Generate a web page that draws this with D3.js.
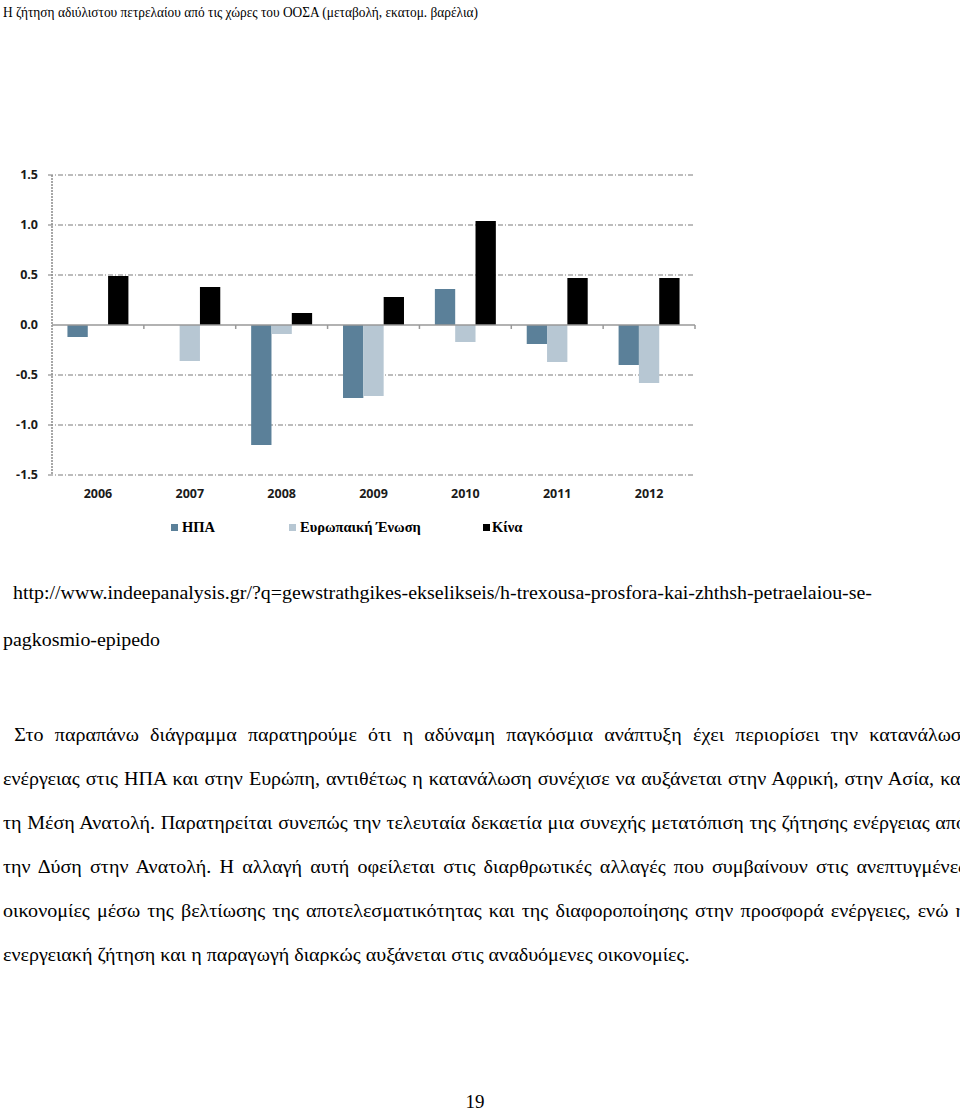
<!DOCTYPE html>
<html>
<head>
<meta charset="utf-8">
<script src="https://cdn.jsdelivr.net/npm/d3@7"></script>
<style>
  body { margin: 0; background: #fff; }
  svg { display: block; }
</style>
</head>
<body>
<div id="chart"></div>
<script>
// data
const years = ["2006", "2007", "2008", "2009", "2010", "2011", "2012"];
const usa = [-0.12, 0, -1.2, -0.73, 0.36, -0.19, -0.4];
const eu = [0, -0.36, -0.09, -0.71, -0.17, -0.37, -0.58];
const china = [0.49, 0.38, 0.12, 0.28, 1.04, 0.47, 0.47];
const seriesNames = ["ΗΠΑ", "Ευρωπαική Ένωση", "Κίνα"];
const yTicks = [1.5, 1.0, 0.5, 0.0, -0.5, -1.0, -1.5];

const title = "Η ζήτηση αδιύλιστου πετρελαίου από τις χώρες του ΟΟΣΑ (μεταβολή, εκατομ. βαρέλια)";
const urlLines = [
  "http://www.indeepanalysis.gr/?q=gewstrathgikes-ekselikseis/h-trexousa-prosfora-kai-zhthsh-petraelaiou-se-",
  "pagkosmio-epipedo"
];
const paragraph = [
  " Στο παραπάνω διάγραμμα παρατηρούμε ότι η αδύναμη παγκόσμια ανάπτυξη έχει περιορίσει την κατανάλωση",
  "ενέργειας στις ΗΠΑ και στην Ευρώπη, αντιθέτως η κατανάλωση συνέχισε να αυξάνεται στην Αφρική, στην Ασία, και",
  "τη Μέση Ανατολή. Παρατηρείται συνεπώς την τελευταία δεκαετία μια συνεχής μετατόπιση της ζήτησης ενέργειας από",
  "την Δύση στην Ανατολή. Η αλλαγή αυτή οφείλεται στις διαρθρωτικές αλλαγές που συμβαίνουν στις ανεπτυγμένες",
  "οικονομίες μέσω της βελτίωσης της αποτελεσματικότητας και της διαφοροποίησης στην προσφορά ενέργειες, ενώ η",
  "ενεργειακή ζήτηση και η παραγωγή διαρκώς αυξάνεται στις αναδυόμενες οικονομίες."
];
const pageNumber = "19";

const rows = years.map((y, i) => ({ year: y, values: [usa[i], eu[i], china[i]] }));
const colors = ["#5b8099", "#b7c7d3", "#000000"];

const W = 960, H = 1111;
const box = { left: 52, right: 695, top: 175, bottom: 475 };

const svg = d3.select("#chart").append("svg")
  .attr("width", W).attr("height", H);
svg.append("rect").attr("width", W).attr("height", H).attr("fill", "#fff");

const serif = "'Liberation Serif', 'Times New Roman', serif";
const sans = "'Open Sans', 'DejaVu Sans', sans-serif";

// title (original is a slightly condensed Times)
svg.append("text")
  .attr("x", 3).attr("y", 17)
  .attr("textLength", 475).attr("lengthAdjust", "spacingAndGlyphs")
  .style("font-family", serif).style("font-size", "15.5px")
  .text(title);

// scales
const x = d3.scaleBand().domain(years).range([box.left, box.right]).padding(0);
const x1 = d3.scaleBand().domain(d3.range(3)).range([0, x.bandwidth()])
  .paddingInner(0).paddingOuter(0.76);
const y = d3.scaleLinear().domain([-1.5, 1.5]).range([box.bottom, box.top]);

// gridlines (dash-dot)
svg.append("g").selectAll("line")
  .data(yTicks.filter(d => d !== 0))
  .join("line")
  .attr("x1", box.left - 4).attr("x2", box.right)
  .attr("y1", d => y(d)).attr("y2", d => y(d))
  .attr("stroke", "#7a7a7a").attr("stroke-width", 1)
  .attr("stroke-dasharray", "5,2,1,2");

// left axis line
svg.append("line")
  .attr("x1", box.left).attr("x2", box.left)
  .attr("y1", box.top).attr("y2", box.bottom)
  .attr("stroke", "#8a8a8a").attr("stroke-width", 1.5)
  .attr("stroke-dasharray", "2,1");

// y labels
svg.append("g").selectAll("text")
  .data(yTicks)
  .join("text")
  .attr("x", 38).attr("y", d => y(d))
  .attr("dy", "0.35em")
  .attr("text-anchor", "end")
  .style("font-family", sans).style("font-weight", "bold").style("font-size", "12.5px")
  .attr("fill", "#1a1a1a")
  .text(d => d.toFixed(1));

// bars
const groups = svg.append("g").selectAll("g")
  .data(rows)
  .join("g")
  .attr("transform", d => "translate(" + x(d.year) + ",0)");

groups.selectAll("rect")
  .data(d => d.values.map((v, i) => ({ v: v, i: i })))
  .join("rect")
  .attr("x", d => x1(d.i))
  .attr("width", x1.bandwidth())
  .attr("y", d => y(Math.max(0, d.v)))
  .attr("height", d => Math.abs(y(d.v) - y(0)))
  .attr("fill", d => colors[d.i]);

// zero line with category ticks
svg.append("line")
  .attr("x1", box.left).attr("x2", box.right)
  .attr("y1", y(0)).attr("y2", y(0))
  .attr("stroke", "#999").attr("stroke-width", 1.5);
svg.append("g").selectAll("line")
  .data(years.slice(1).map(d => x(d)).concat([box.right]))
  .join("line")
  .attr("x1", d => d).attr("x2", d => d)
  .attr("y1", y(0)).attr("y2", y(0) + 4)
  .attr("stroke", "#999").attr("stroke-width", 1.5);

// x labels
svg.append("g").selectAll("text")
  .data(years)
  .join("text")
  .attr("x", d => x(d) + x.bandwidth() / 2)
  .attr("y", 498)
  .attr("text-anchor", "middle")
  .style("font-family", sans).style("font-weight", "bold").style("font-size", "12.5px")
  .attr("fill", "#1a1a1a")
  .text(d => d);

// legend
const legendX = [171, 289, 483];
const legend = svg.append("g").selectAll("g")
  .data(seriesNames)
  .join("g")
  .attr("transform", (d, i) => "translate(" + legendX[i] + ",524)");
legend.append("rect")
  .attr("width", 7).attr("height", 7)
  .attr("fill", (d, i) => colors[i]);
legend.append("text")
  .attr("x", (d, i) => i === 2 ? 9 : 11).attr("y", 8)
  .style("font-family", serif).style("font-weight", "bold").style("font-size", "14.5px")
  .text(d => d);

// source url
svg.append("text")
  .attr("x", 13).attr("y", 599)
  .attr("textLength", 859).attr("lengthAdjust", "spacingAndGlyphs")
  .style("font-family", serif).style("font-size", "19px")
  .text(urlLines[0]);
svg.append("text")
  .attr("x", 3).attr("y", 646)
  .attr("textLength", 157).attr("lengthAdjust", "spacingAndGlyphs")
  .style("font-family", serif).style("font-size", "19px")
  .text(urlLines[1]);

// paragraph, justified lines running past the right edge as in the original
const para = svg.append("g")
  .style("font-family", serif).style("font-size", "19px");
const lastLine = para.append("text").text(paragraph[paragraph.length - 1]);
const sx = 687 / lastLine.node().getComputedTextLength();
lastLine.remove();
const rightEdge = 966;
paragraph.forEach((line, i) => {
  const x0 = 3;
  const yy = 741 + i * 44;
  const t = para.append("text")
    .attr("xml:space", "preserve")
    .style("white-space", "pre")
    .attr("transform", "translate(" + x0 + "," + yy + ") scale(" + sx + ",1)")
    .text(line);
  if (i < paragraph.length - 1) {
    const w = t.node().getComputedTextLength();
    const gaps = (line.trim().match(/ /g) || []).length;
    const ws = ((rightEdge - x0) / sx - w) / gaps;
    t.style("word-spacing", ws + "px");
  }
});

// page number
svg.append("text")
  .attr("x", 475).attr("y", 1108)
  .attr("text-anchor", "middle")
  .style("font-family", serif).style("font-size", "19px")
  .text(pageNumber);
</script>
</body>
</html>
